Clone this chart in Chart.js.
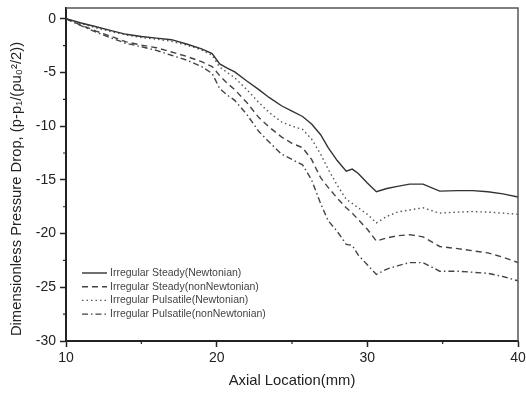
<!DOCTYPE html>
<html>
<head>
<meta charset="utf-8">
<title>Pressure Drop</title>
<script src="https://cdn.jsdelivr.net/npm/chart.js@4.4.1/dist/chart.umd.min.js"></script>
<style>
    html, body { margin: 0; padding: 0; background: #fff; }
    #wrap { width: 526px; height: 394px; }
</style>
</head>
<body>
<div id="wrap"><canvas id="chart" width="526" height="394"></canvas></div>
<script>
// Axial positions (mm) shared by all four curves
const axialLocation = [10, 11, 12, 13, 14, 15, 16, 17, 18, 19, 19.7, 20.2, 20.7, 21.2, 22, 22.8, 23.5, 24.3, 25, 25.7,
    26.3, 26.9, 27.4, 28, 28.6, 29, 29.4, 30, 30.6, 31.3, 32, 32.8, 33.7, 34.8, 36, 37, 38, 39, 40];

// Dimensionless pressure drop for each case
const steadyNewtonian = [0, -0.4, -0.75, -1.1, -1.45, -1.65, -1.8, -1.95, -2.35, -2.8, -3.25, -4.2, -4.6, -4.95, -5.8, -6.6, -7.35, -8.1, -8.6, -9.1,
    -9.8, -10.8, -12.0, -13.2, -14.2, -14.0, -14.4, -15.3, -16.1, -15.8, -15.6, -15.4, -15.4, -16.05, -16.0, -16.0, -16.1, -16.3, -16.6];
const steadyNonNewtonian = [0, -0.6, -1.15, -1.65, -2.15, -2.45, -2.7, -3.1, -3.5, -4.0, -4.45, -5.3, -6.0, -6.6, -7.8, -9.2, -10.1, -11.0, -11.6, -12.0,
    -13.1, -14.8, -15.7, -16.7, -17.6, -18.1, -18.7, -19.6, -20.7, -20.4, -20.2, -20.1, -20.3, -21.2, -21.4, -21.6, -21.8, -22.2, -22.7];
const pulsatileNewtonian = [0, -0.45, -0.85, -1.2, -1.5, -1.75, -1.9, -2.1, -2.45, -2.9, -3.4, -4.5, -5.0, -5.5, -6.6, -7.8, -8.75, -9.6, -10.0, -10.3,
    -11.2, -12.6, -14.0, -15.5, -16.8, -17.2, -17.6, -18.2, -19.0, -18.4, -18.0, -17.8, -17.6, -18.1, -18.0, -17.95, -18.0, -18.1, -18.2];
const pulsatileNonNewtonian = [0, -0.65, -1.25, -1.8, -2.3, -2.6, -2.95, -3.4, -3.85, -4.45, -5.1, -6.5, -7.1, -7.6, -8.9, -10.5, -11.5, -12.6, -13.1, -13.6,
    -15.0, -17.2, -18.8, -19.8, -21.0, -21.1, -22.0, -22.9, -23.8, -23.3, -23.0, -22.7, -22.7, -23.5, -23.5, -23.6, -23.7, -24.0, -24.4];

const seriesNames = [
    'Irregular Steady(Newtonian)',
    'Irregular Steady(nonNewtonian)',
    'Irregular Pulsatile(Newtonian)',
    'Irregular Pulsatile(nonNewtonian)'
];

const xMinorTicks = [15, 25, 35];
const yMinorTicks = [-2.5, -7.5, -12.5, -17.5, -22.5, -27.5];

const FONT = '"Liberation Sans", Arial, sans-serif';

function toPoints(ys) {
    return ys.map((y, i) => ({ x: axialLocation[i], y: y }));
}

// Frame, minor ticks, y title and the in-plot legend
const decorations = {
    id: 'decorations',
    afterDraw(chart) {
        const ctx = chart.ctx;
        const area = chart.chartArea;
        const xs = chart.scales.x;
        const ys = chart.scales.y;
        ctx.save();

        // top and right frame lines
        ctx.strokeStyle = '#555';
        ctx.lineWidth = 1.5;
        ctx.beginPath();
        ctx.moveTo(area.left, area.top);
        ctx.lineTo(area.right, area.top);
        ctx.lineTo(area.right, area.bottom);
        ctx.stroke();

        // minor ticks
        ctx.strokeStyle = '#222';
        ctx.lineWidth = 1.2;
        ctx.beginPath();
        xMinorTicks.forEach(v => {
            const px = xs.getPixelForValue(v);
            ctx.moveTo(px, area.bottom);
            ctx.lineTo(px, area.bottom + 3);
        });
        yMinorTicks.forEach(v => {
            const py = ys.getPixelForValue(v);
            ctx.moveTo(area.left, py);
            ctx.lineTo(area.left - 3, py);
        });
        ctx.stroke();

        // y axis title
        ctx.fillStyle = '#222';
        ctx.font = '14.8px ' + FONT;
        ctx.textAlign = 'center';
        ctx.textBaseline = 'middle';
        ctx.translate(17, 189);
        ctx.rotate(-Math.PI / 2);
        ctx.fillText('Dimensionless Pressure Drop, (p-p\u2081/(\u03C1u\u2080\u00B2/2))', 0, 0);
        ctx.setTransform(1, 0, 0, 1, 0, 0);

        // legend
        ctx.font = '10.5px ' + FONT;
        ctx.textAlign = 'left';
        chart.data.datasets.forEach((ds, i) => {
            const y = 273 + i * 13.7;
            ctx.strokeStyle = ds.borderColor;
            ctx.lineWidth = ds.borderWidth;
            ctx.setLineDash(ds.borderDash || []);
            ctx.beginPath();
            ctx.moveTo(82, y);
            ctx.lineTo(107, y);
            ctx.stroke();
            ctx.setLineDash([]);
            ctx.fillStyle = '#444';
            ctx.fillText(ds.label, 110, y);
        });
        ctx.restore();
    }
};

const ctx = document.getElementById('chart').getContext('2d');
new Chart(ctx, {
    type: 'line',
    data: {
        datasets: [
            { label: seriesNames[0], data: toPoints(steadyNewtonian), borderColor: '#333', borderWidth: 1.4, borderDash: [] },
            { label: seriesNames[1], data: toPoints(steadyNonNewtonian), borderColor: '#444', borderWidth: 1.4, borderDash: [6, 4] },
            { label: seriesNames[2], data: toPoints(pulsatileNewtonian), borderColor: '#555', borderWidth: 1.4, borderDash: [1.5, 3] },
            { label: seriesNames[3], data: toPoints(pulsatileNonNewtonian), borderColor: '#444', borderWidth: 1.4, borderDash: [6, 3, 1.5, 3] }
        ]
    },
    options: {
        responsive: false,
        animation: false,
        parsing: false,
        elements: {
            point: { radius: 0 },
            line: { tension: 0, fill: false }
        },
        layout: { padding: { top: 8, right: 8, left: 0, bottom: 0 } },
        plugins: {
            legend: { display: false },
            tooltip: { enabled: false }
        },
        scales: {
            x: {
                type: 'linear',
                min: 10,
                max: 40,
                afterFit: (s) => { s.height = 53; s.paddingLeft = 0; s.paddingRight = 0; },
                ticks: {
                    stepSize: 10,
                    padding: 3,
                    color: '#222',
                    font: { size: 14, family: FONT }
                },
                grid: { drawOnChartArea: false, drawTicks: true, tickLength: 6, tickColor: '#222', tickWidth: 1.5 },
                border: { color: '#222', width: 2 },
                title: {
                    display: true,
                    text: 'Axial Location(mm)',
                    color: '#222',
                    font: { size: 14.8, family: FONT },
                    padding: { top: 0, bottom: 4 }
                }
            },
            y: {
                type: 'linear',
                min: -30,
                max: 1,
                afterFit: (s) => { s.width = 66; s.paddingTop = 0; s.paddingBottom = 0; },
                ticks: {
                    stepSize: 5,
                    includeBounds: false,
                    padding: 4,
                    color: '#222',
                    font: { size: 14, family: FONT }
                },
                grid: { drawOnChartArea: false, drawTicks: true, tickLength: 6, tickColor: '#222', tickWidth: 1.5 },
                border: { color: '#222', width: 2 }
            }
        }
    },
    plugins: [decorations]
});
</script>
</body>
</html>
